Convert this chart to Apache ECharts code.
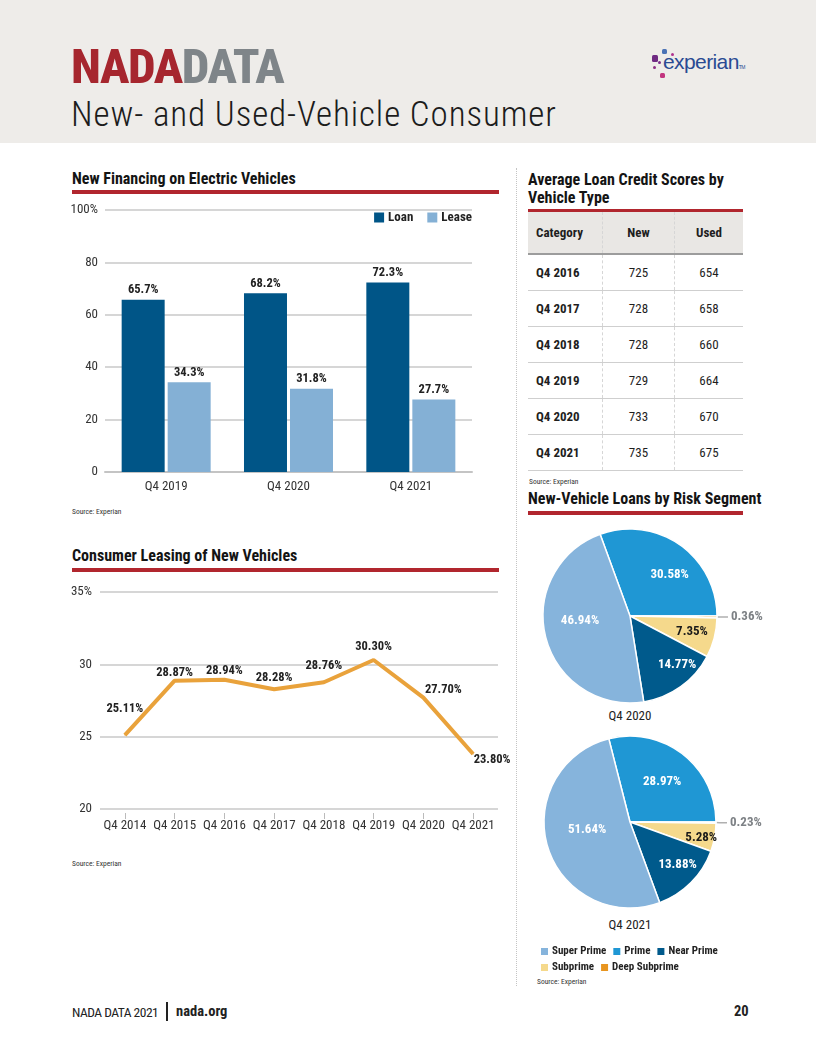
<!DOCTYPE html>
<html><head><meta charset="utf-8">
<script src="https://cdn.jsdelivr.net/npm/echarts@6/dist/echarts.min.js"></script>
<style>
html,body{margin:0;padding:0;}
body{width:816px;height:1056px;position:relative;background:#fff;overflow:hidden;
 font-family:Roboto,"Open Sans",sans-serif;font-stretch:75%;color:#1a1a1a;}
.abs{position:absolute;white-space:nowrap;}
#hdr{left:0;top:0;width:816px;height:143px;background:#eeece9;}
.brand{left:71px;top:41px;font-size:49px;font-weight:800;line-height:52px;letter-spacing:-1.4px;}
.sub{left:71px;top:95px;font-size:35px;font-weight:300;font-stretch:75%;letter-spacing:0.9px;line-height:40px;color:#1c1c1c;}
.st{font-weight:bold;font-size:16px;line-height:18px;color:#141414;}
.rule{height:4px;background:#b1262e;}
.src{font-size:7.5px;color:#333;}
.cap{font-size:13px;color:#222;transform:translateX(-50%);}
#tbl{left:528px;top:212px;width:215px;}
#tbl table{border-collapse:collapse;width:215px;font-size:13px;color:#1e1e1e;}
#tbl th{background:#e9e7e4;height:41px;border-bottom:2px solid #9c9c9c;font-weight:bold;padding:0;}
#tbl td{height:35px;border-bottom:1px solid #cfcfcf;padding:0;}
#tbl .c1{text-align:left;padding-left:8px;width:66px;font-weight:bold;}
#tbl .c2,#tbl .c3{text-align:center;border-left:1px dashed #d6d6d6;}
#tbl .c2{width:71px;}
.dot{position:absolute;border-radius:1.5px;}
#chart{position:absolute;left:0;top:0;width:816px;height:1056px;}
</style></head>
<body>
<div id="hdr" class="abs"></div>
<div class="abs brand"><span style="color:#a6262e">NADA</span><span style="color:#7f8589">DATA</span></div>
<div class="abs sub">New- and Used-Vehicle Consumer</div>
<div class="dot" style="left:662px;top:49px;width:5px;height:5px;background:#4a72b5"></div>
<div class="dot" style="left:671px;top:53px;width:3px;height:3px;background:#b0338f"></div>
<div class="dot" style="left:652px;top:55px;width:6px;height:7px;background:#6f2a82"></div>
<div class="dot" style="left:658px;top:61px;width:3px;height:3px;background:#7a2f8a"></div>
<div class="dot" style="left:653px;top:66px;width:3px;height:3px;background:#8d2c86"></div>
<div class="dot" style="left:660px;top:73px;width:5px;height:5px;background:#c2357f"></div>
<div class="abs" style="left:663px;top:50px;font-family:'Liberation Sans',Arial,sans-serif;font-stretch:100%;font-size:21px;line-height:24px;color:#2a4a93;letter-spacing:-0.6px">experian<span style="font-size:5px">TM</span></div>

<div class="abs" style="left:516px;top:168px;height:818px;border-left:1px dotted #c4c4c4"></div>

<div class="abs st" style="left:72px;top:170px">New Financing on Electric Vehicles</div>
<div class="abs rule" style="left:72px;top:190px;width:427px"></div>
<div class="abs src" style="left:72px;top:507px">Source: Experian</div>

<div class="abs st" style="left:72px;top:547px">Consumer Leasing of New Vehicles</div>
<div class="abs rule" style="left:72px;top:568px;width:427px"></div>
<div class="abs src" style="left:72px;top:859px">Source: Experian</div>

<div class="abs st" style="left:528px;top:171px">Average Loan Credit Scores by</div>
<div class="abs st" style="left:528px;top:189px">Vehicle Type</div>
<div class="abs rule" style="left:528px;top:209px;width:215px"></div>
<div id="tbl" class="abs"></div>
<div class="abs src" style="left:529px;top:477px">Source: Experian</div>

<div class="abs st" style="left:528px;top:490px">New-Vehicle Loans by Risk Segment</div>
<div class="abs rule" style="left:528px;top:511px;width:215px"></div>
<div class="abs cap" style="left:630px;top:708px">Q4 2020</div>
<div class="abs cap" style="left:630px;top:917px">Q4 2021</div>
<div class="abs src" style="left:537px;top:977px">Source: Experian</div>

<div class="abs" style="left:72px;top:1003px;font-size:13.5px;line-height:18px;color:#222;letter-spacing:-0.5px">NADA DATA 2021</div>
<div class="abs" style="left:166px;top:1002px;width:1.5px;height:19px;background:#222"></div>
<div class="abs" style="left:176px;top:1003px;font-size:14.5px;line-height:18px;font-weight:bold;color:#222">nada.org</div>
<div class="abs" style="left:734px;top:1003px;font-size:14.5px;line-height:18px;font-weight:bold;color:#222">20</div>

<div id="chart"></div>
<script>
// ---------- DATA ----------
const evCategories = ['Q4 2019', 'Q4 2020', 'Q4 2021'];
const evLoan = [65.7, 68.2, 72.3];
const evLease = [34.3, 31.8, 27.7];

const leaseYears = ['Q4 2014', 'Q4 2015', 'Q4 2016', 'Q4 2017', 'Q4 2018', 'Q4 2019', 'Q4 2020', 'Q4 2021'];
const leaseShare = [25.11, 28.87, 28.94, 28.28, 28.76, 30.30, 27.70, 23.80];

const scoreHeaders = ['Category', 'New', 'Used'];
const scoreCats = ['Q4 2016', 'Q4 2017', 'Q4 2018', 'Q4 2019', 'Q4 2020', 'Q4 2021'];
const scoreNew = [725, 728, 728, 729, 733, 735];
const scoreUsed = [654, 658, 660, 664, 670, 675];

const segments = ['Super Prime', 'Prime', 'Near Prime', 'Subprime', 'Deep Subprime'];
const risk2020 = [46.94, 30.58, 14.77, 7.35, 0.36];
const risk2021 = [51.64, 28.97, 13.88, 5.28, 0.23];

// ---------- TABLE ----------
(function () {
  let h = '<table><tr>' + scoreHeaders.map((t, i) => '<th class="c' + (i + 1) + '">' + t + '</th>').join('') + '</tr>';
  scoreCats.forEach((c, i) => {
    h += '<tr><td class="c1">' + c + '</td><td class="c2">' + scoreNew[i] + '</td><td class="c3">' + scoreUsed[i] + '</td></tr>';
  });
  document.getElementById('tbl').innerHTML = h + '</table>';
})();

// ---------- CHART ----------
const FONT = 'Roboto';
const NW = 'normal condensed', BW = 'bold condensed';
const segColors = ['#86b4dc', '#1f97d4', '#005a8c', '#f5d98c', '#e8951f'];
const drawOrder = [1, 4, 3, 2, 0]; // clockwise from the Prime slice
const lineLabelOffsets = [[0, -26], [0, -8], [0, -9], [0, -11], [0, -16], [0, -13], [20, -8], [19, 6]];
const pieLabelOffsets = [
  {0: [-5, -7], 1: [13, -3], 2: [20, 11], 3: [17, 4]},
  {0: [1, -6], 1: [4, -4], 2: [15, 10], 3: [26, 7]}
];

function pieSeries(values, center, r, k) {
  const data = drawOrder.map(i => {
    const item = {name: segments[i], value: values[i], itemStyle: {color: segColors[i]}};
    if (i === 4) {
      item.label = {position: 'outside', color: '#7d8185', fontSize: 13, distanceToLabelLine: 3};
      item.labelLine = {show: true, length: 4, length2: 7, lineStyle: {color: '#b0b0b0', width: 1.5}};
    }
    if (i === 3) item.label = {color: '#1a1a1a'};
    return item;
  });
  return {
    type: 'pie', center: center, radius: r, startAngle: values[1] * 3.6,
    clockwise: true, avoidLabelOverlap: false, silent: true,
    itemStyle: {borderColor: '#fff', borderWidth: 1.5},
    label: {show: true, position: 'inside', formatter: p => p.value.toFixed(2) + '%',
      color: '#fff', fontWeight: BW, fontSize: 13, fontFamily: FONT},
    labelLine: {show: false},
    labelLayout: p => {
      const idx = drawOrder[p.dataIndex];
      const o = pieLabelOffsets[k][idx];
      return o ? {dx: o[0], dy: o[1]} : {};
    },
    data: data
  };
}

const chart = echarts.init(document.getElementById('chart'), null, {renderer: 'canvas'});
chart.setOption({
  animation: false,
  backgroundColor: 'transparent',
  textStyle: {fontFamily: FONT, fontWeight: NW},
  legend: [
    {data: ['Loan', 'Lease'], right: 344, top: 211, padding: 0, icon: 'rect', itemWidth: 10, itemHeight: 10, itemGap: 14,
      textStyle: {fontFamily: FONT, fontWeight: BW, fontSize: 13, color: '#222', padding: [0, 0, 0, -1]}},
    {data: segments, left: 539, top: 946, width: 180, padding: 0, icon: 'rect', itemWidth: 9, itemHeight: 9, itemGap: 5,
      textStyle: {fontFamily: FONT, fontWeight: BW, fontSize: 11, color: '#222', padding: [0, 0, 0, -2]}}
  ],
  grid: [
    {left: 105, top: 210, width: 367, height: 262},
    {left: 100, top: 592, width: 398, height: 217}
  ],
  xAxis: [
    {type: 'category', gridIndex: 0, data: evCategories,
      axisLine: {lineStyle: {color: '#c4c4c4', width: 2}}, axisTick: {show: false},
      axisLabel: {color: '#333', fontSize: 13, margin: 8, fontFamily: FONT, fontWeight: NW}},
    {type: 'category', gridIndex: 1, data: leaseYears, boundaryGap: true, offset: 4,
      axisLine: {show: false},
      axisTick: {show: true, alignWithLabel: true, length: 6, lineStyle: {color: '#bbb'}},
      axisLabel: {interval: 0, color: '#333', fontSize: 13, margin: 6, fontFamily: FONT, fontWeight: NW}}
  ],
  yAxis: [
    {type: 'value', gridIndex: 0, min: 0, max: 100, interval: 20,
      axisLine: {show: false}, axisTick: {show: false},
      splitLine: {lineStyle: {color: '#c9c9c9', width: 1.5}},
      axisLabel: {color: '#333', fontSize: 13, margin: 7, fontFamily: FONT, fontWeight: NW, formatter: v => v === 100 ? '100%' : v}},
    {type: 'value', gridIndex: 1, min: 20, max: 35, interval: 5,
      axisLine: {show: false}, axisTick: {show: false},
      splitLine: {lineStyle: {color: '#c9c9c9', width: 1.5}},
      axisLabel: {color: '#333', fontSize: 13, margin: 8, fontFamily: FONT, fontWeight: NW, formatter: v => v === 35 ? '35%' : v}}
  ],
  series: [
    {name: 'Loan', type: 'bar', xAxisIndex: 0, yAxisIndex: 0, data: evLoan, barWidth: 43, barGap: '7%',
      itemStyle: {color: '#005587'},
      label: {show: true, position: 'top', distance: 3, formatter: p => p.value.toFixed(1) + '%',
        color: '#222', fontWeight: BW, fontSize: 12.5, fontFamily: FONT}},
    {name: 'Lease', type: 'bar', xAxisIndex: 0, yAxisIndex: 0, data: evLease, barWidth: 43,
      itemStyle: {color: '#84b0d5'},
      label: {show: true, position: 'top', distance: 3, formatter: p => p.value.toFixed(1) + '%',
        color: '#222', fontWeight: BW, fontSize: 12.5, fontFamily: FONT}},
    {name: 'Leasing', type: 'line', xAxisIndex: 1, yAxisIndex: 1,
      data: leaseShare.map((v, i) => ({value: v, label: {offset: lineLabelOffsets[i]}})),
      symbol: 'circle', symbolSize: 1, itemStyle: {color: '#e9a23b'},
      lineStyle: {color: '#e9a23b', width: 4}, silent: true,
      label: {show: true, position: 'inside', formatter: p => p.value.toFixed(2) + '%',
        color: '#222', fontWeight: BW, fontSize: 12.5, fontFamily: FONT}},
    pieSeries(risk2020, [630, 616], 87, 0),
    pieSeries(risk2021, [630, 822], 86, 1)
  ]
});
</script>
</body></html>
